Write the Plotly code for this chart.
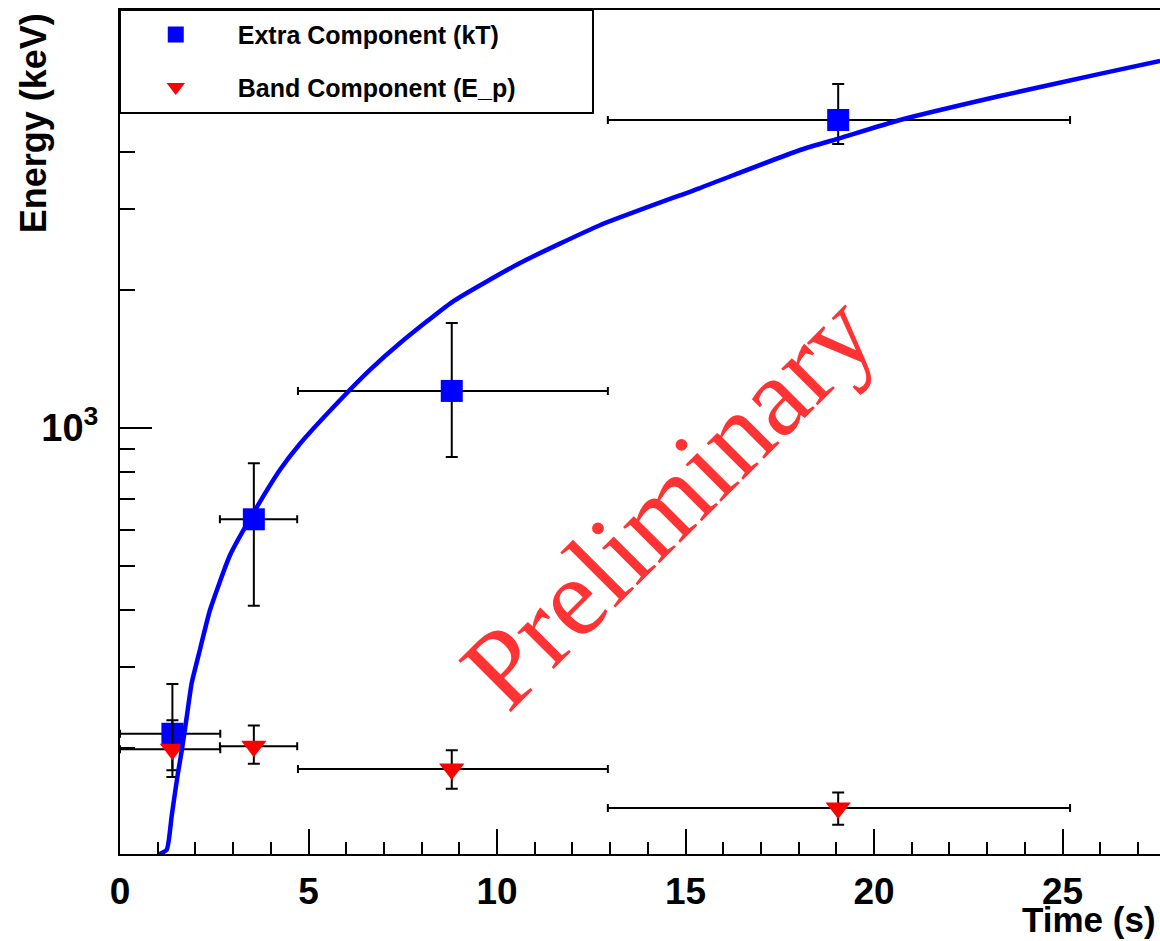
import plotly.graph_objects as go

# Time bins (s) and their representative times
bin_lo = [0.0, 2.65, 4.72, 12.94]
bin_hi = [2.66, 4.70, 12.94, 25.20]
t_mid = [1.39, 3.55, 8.80, 19.05]

# Extra (thermal) component temperature kT, keV, with upper/lower bounds
kT = [215, 632, 1205, 4705]
kT_up = [276, 838, 1695, 5636]
kT_dn = [173, 409, 864, 4172]

# Band component peak energy E_p, keV, with upper/lower bounds
Ep = [199, 202, 180, 148]
Ep_up = [230, 224, 198, 160]
Ep_dn = [179, 185, 163, 136]

# Fitted kT evolution curve
fit_t = [1.01, 1.24, 1.37, 1.46, 1.54, 1.64, 1.77, 1.90, 2.12, 2.39, 2.92,
         3.55, 4.24, 4.77, 5.84, 6.63, 7.43, 8.81, 10.61, 12.73, 15.38, 18.04,
         19.10, 20.69, 23.34, 25.99, 27.59]
fit_kT = [117, 120, 142, 160, 177, 198, 234, 277, 328, 401, 528,
          655, 810, 923, 1151, 1339, 1533, 1884, 2292, 2772, 3342, 4046,
          4296, 4705, 5308, 5933, 6328]

ex_plus = [h - m for h, m in zip(bin_hi, t_mid)]
ex_minus = [m - l for m, l in zip(t_mid, bin_lo)]

FONT = "Liberation Sans, Arial, sans-serif"
ERR = dict(color="black", thickness=2)

fig = go.Figure()

fig.add_trace(go.Scatter(
    x=t_mid, y=kT, mode="markers", name="Extra Component (kT)",
    legendgroup="kT",
    marker=dict(symbol="square", size=22, color="rgb(0,0,255)", line=dict(width=0)),
    error_x=dict(type="data", symmetric=False, array=ex_plus, arrayminus=ex_minus, width=4, **ERR),
    error_y=dict(type="data", symmetric=False,
                 array=[u - v for u, v in zip(kT_up, kT)],
                 arrayminus=[v - d for v, d in zip(kT, kT_dn)], width=6, **ERR),
))

fig.add_trace(go.Scatter(
    x=t_mid, y=Ep, mode="markers", name="Band Component (E_p)",
    legendgroup="Ep",
    marker=dict(symbol="triangle-down", size=22, color="rgb(255,0,0)", line=dict(width=0)),
    error_x=dict(type="data", symmetric=False, array=ex_plus, arrayminus=ex_minus, width=4, **ERR),
    error_y=dict(type="data", symmetric=False,
                 array=[u - v for u, v in zip(Ep_up, Ep)],
                 arrayminus=[v - d for v, d in zip(Ep, Ep_dn)], width=6, **ERR),
))

fig.add_trace(go.Scatter(
    x=fit_t, y=fit_kT, mode="lines", showlegend=False,
    line=dict(color="rgb(0,0,255)", width=4.5, shape="spline", smoothing=0.5),
))

minor_y = [200, 300, 400, 500, 600, 700, 800, 900, 2000, 3000, 4000, 5000, 6000, 7000, 8000]

fig.update_layout(
    width=1160, height=941,
    margin=dict(l=120, r=0, t=10, b=87),
    paper_bgcolor="white", plot_bgcolor="white",
    font=dict(family=FONT, color="black"),
    xaxis=dict(
        range=[0, 27.586], showgrid=False, zeroline=False,
        showline=True, linecolor="black", linewidth=2, mirror=True,
        ticks="inside", ticklen=25, tickwidth=1.5, tickcolor="black",
        tick0=0, dtick=5,
        minor=dict(dtick=1, ticks="inside", ticklen=12, tickwidth=1.5, tickcolor="black"),
        tickfont=dict(family=FONT, size=37, weight="bold"),
        ticklabelstandoff=4,
    ),
    yaxis=dict(
        type="log", range=[2.0699, 3.9127], showgrid=False, zeroline=False,
        showline=True, linecolor="black", linewidth=2,
        ticks="inside", ticklen=32, tickwidth=1.5, tickcolor="black",
        tickmode="array", tickvals=[1000], ticktext=["10<sup>3</sup>"],
        minor=dict(tickmode="array", tickvals=minor_y, ticks="inside",
                   ticklen=15, tickwidth=1.5, tickcolor="black"),
        tickfont=dict(family=FONT, size=38, weight="bold"),
        ticklabelstandoff=12,
    ),
    showlegend=True,
    legend=dict(
        x=-0.006, y=0.998, xanchor="left", yanchor="top",
        bgcolor="rgba(0,0,0,0)", borderwidth=0,
        font=dict(family=FONT, size=25, weight="bold", color="black"),
        itemwidth=114, tracegroupgap=17, traceorder="grouped",
    ),
    shapes=[
        dict(type="rect", xref="paper", yref="paper",
             x0=0, x1=0.4548, y0=0.878, y1=1.0,
             line=dict(color="black", width=2), fillcolor="white", layer="above"),
    ],
    annotations=[
        dict(text="Energy (keV)", xref="paper", yref="paper",
             x=-0.0835, y=0.866, xanchor="center", yanchor="middle",
             textangle=-90, showarrow=False,
             font=dict(family=FONT, size=36, weight="bold", color="black")),
        dict(text="Time (s)", xref="paper", yref="paper",
             x=0.998, y=-0.1025, xanchor="right", yanchor="bottom",
             showarrow=False,
             font=dict(family=FONT, size=35, weight="bold", color="black")),
        dict(text="Preliminary", xref="paper", yref="paper",
             x=0.527, y=0.418, xanchor="center", yanchor="middle",
             textangle=-45, showarrow=False,
             font=dict(family="Liberation Serif, Times New Roman, serif", size=112,
                       color="rgb(255,51,51)")),
    ],
)

fig.write_html("out.html")
